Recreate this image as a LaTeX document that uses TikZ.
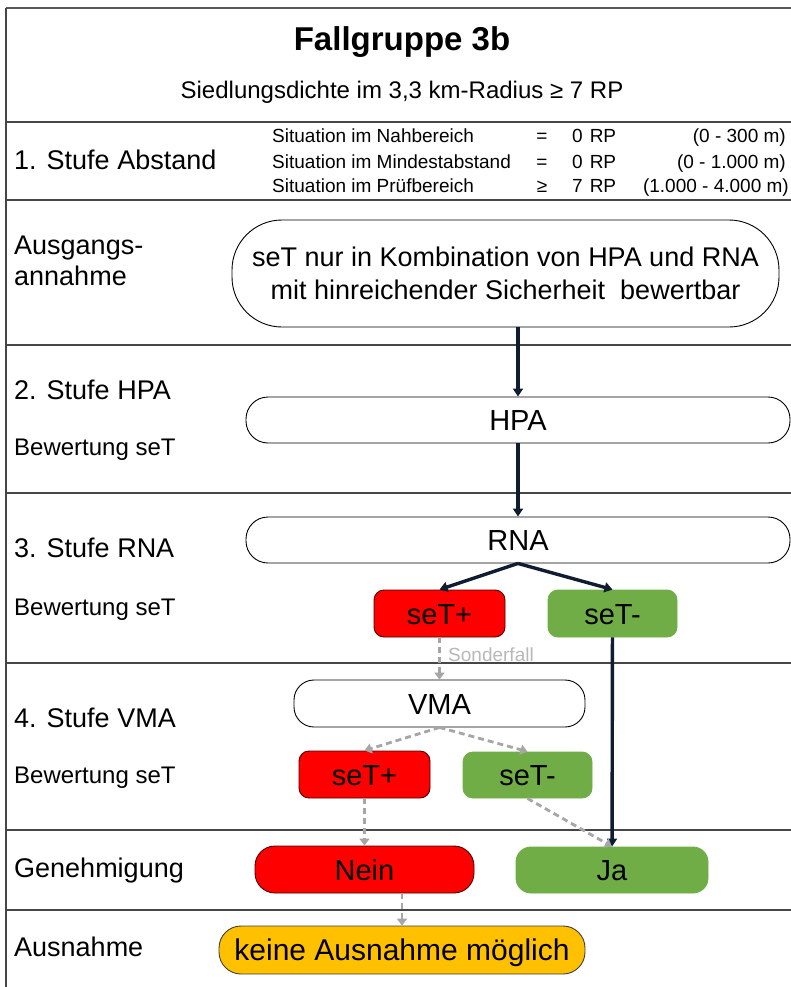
\documentclass[tikz,border=0pt]{standalone}
\usepackage{fontspec}
\setmainfont{Liberation Sans}
\usetikzlibrary{arrows.meta}
\definecolor{segrot}{RGB}{255,0,0}
\definecolor{segruen}{RGB}{112,173,71}
\definecolor{seorange}{RGB}{255,192,0}
\definecolor{pfeil}{RGB}{16,28,48}
\definecolor{grau}{RGB}{166,166,166}
\definecolor{linie}{RGB}{70,70,70}
\newcommand{\fs}[1]{\fontsize{#1}{#1}\selectfont}

\begin{document}
\begin{tikzpicture}[x=1pt,y=-1pt,
		lbl/.style={anchor=west,inner sep=0pt,font=\fs{27},text height=19pt,text depth=0pt},
		bew/.style={anchor=west,inner sep=0pt,font=\fs{24},text height=17pt,text depth=0pt},
		sit/.style={inner sep=0pt,font=\fs{19},text height=14pt,text depth=0pt},
		feld/.style={draw=black,line width=0.9pt,fill=white,inner sep=0pt,align=center,font=\fs{29},text height=21pt,text depth=0pt},
		plus/.style={feld,fill=segrot,draw=black!70!red,rounded corners=10pt},
		minus/.style={feld,fill=segruen,draw=segruen,rounded corners=10pt},
		hart/.style={-{Triangle[width=10pt,length=8pt]},line width=3.4pt,pfeil},
		weich/.style={-{Triangle[width=10pt,length=7pt]},line width=2.8pt,grau,dash pattern=on 6pt off 4pt},
		trenn/.style={line width=1.5pt,linie}]
	\useasboundingbox (0,0) rectangle (791,987);
	\fill[white] (0,0) rectangle (791,987);

	\draw[line width=2pt,black!65] (6,8) -- (791,8);
	\draw[trenn] (6,8) -- (6,987);
	\foreach \y in {122,200,345,493,663,830,910}
		\draw[trenn] (6,\y) -- (791,\y);

	\node (titel) at (402,42) {\fs{33}\bfseries Fallgruppe 3b};
	\node (untertitel) at (402,92) {\fs{24}Siedlungsdichte im 3,3 km-Radius ≥ 7 RP};

	\node[lbl] (st1) at (14,160) {1. Stufe Abstand};
	\node[sit,anchor=west] (s1a) at (272,136) {Situation im Nahbereich};
	\node[sit] (s1b) at (542,136) {=};
	\node[sit,anchor=west] (s1c) at (572,136) {0\hspace{7pt}RP};
	\node[sit,anchor=east] (s1d) at (786,136) {(0 - 300 m)};
	\node[sit,anchor=west] (s2a) at (272,161) {Situation im Mindestabstand};
	\node[sit] (s2b) at (542,161) {=};
	\node[sit,anchor=west] (s2c) at (572,161) {0\hspace{7pt}RP};
	\node[sit,anchor=east] (s2d) at (786,161) {(0 - 1.000 m)};
	\node[sit,anchor=west] (s3a) at (272,186) {Situation im Prüfbereich};
	\node[sit] (s3b) at (542,186) {≥};
	\node[sit,anchor=west] (s3c) at (572,186) {7\hspace{7pt}RP};
	\node[sit,anchor=east] (s3d) at (789,186) {(1.000 - 4.000 m)};

	\node[lbl] (ausgA) at (14,245) {Ausgangs-};
	\node[lbl] (ausgB) at (14,276) {annahme};
	\node[lbl] (st2) at (14,390) {2. Stufe HPA};
	\node[bew] (bew2) at (14,447) {Bewertung seT};
	\node[lbl] (st3) at (14,548) {3. Stufe RNA};
	\node[bew] (bew3) at (14,607) {Bewertung seT};
	\node[lbl] (st4) at (14,718) {4. Stufe VMA};
	\node[bew] (bew4) at (14,775) {Bewertung seT};
	\node[lbl] (gen) at (14,868) {Genehmigung};
	\node[lbl] (ausn) at (14,947) {Ausnahme};

	\node[feld,minimum width=547pt,minimum height=107pt,rounded corners=50pt,font=\fs{27},text height=,text depth=] (annahme) at (505.5,273.5)
		{seT nur in Kombination von HPA und RNA\\[6pt]mit hinreichender Sicherheit\ \ bewertbar};
	\node[feld,minimum width=544pt,minimum height=46pt,rounded corners=22pt] (hpa) at (518,420) {HPA};
	\node[feld,minimum width=544pt,minimum height=46pt,rounded corners=22pt] (rna) at (518,540) {RNA};
	\node[plus,minimum width=131pt,minimum height=47pt] (rnaplus) at (439.5,613.5) {seT+};
	\node[minus,minimum width=129pt,minimum height=47pt] (rnaminus) at (612.5,613.5) {seT-};
	\node[feld,minimum width=291pt,minimum height=47pt,rounded corners=20pt] (vma) at (439.5,703.5) {VMA};
	\node[plus,minimum width=131pt,minimum height=47pt] (vmaplus) at (364.5,774.5) {seT+};
	\node[minus,minimum width=129pt,minimum height=46pt] (vmaminus) at (527.5,775) {seT-};
	\node[plus,minimum width=219pt,minimum height=47pt,rounded corners=20pt] (nein) at (364.5,869.5) {Nein};
	\node[minus,minimum width=192pt,minimum height=46pt,rounded corners=15pt] (ja) at (612,870) {Ja};
	\node[feld,fill=seorange,draw=black!75,minimum width=366pt,minimum height=48pt,rounded corners=22pt,font=\fs{30}] (keine) at (402,950) {keine Ausnahme möglich};

	\draw[hart] (annahme.south -| hpa.north) -- (hpa.north);
	\draw[hart] (hpa) -- (rna);
	\draw[hart] (rna.south) -- (rnaplus.north);
	\draw[hart] (rna.south) -- (rnaminus.north);
	\draw[hart] (rnaminus) -- (ja);

	\draw[weich] (rnaplus) -- (vma) node[pos=0.4,right=4pt,grau!80,font=\fs{19}] (sonder) {Sonderfall};
	\draw[weich] (vma.south) -- (vmaplus.north);
	\draw[weich] (vma.south) -- (vmaminus.north);
	\draw[weich] (vmaplus) -- (nein);
	\draw[weich] (vmaminus.south) -- (ja.north);
	\draw[weich] (nein.south -| keine.north) -- (keine.north);
\end{tikzpicture}
\end{document}
